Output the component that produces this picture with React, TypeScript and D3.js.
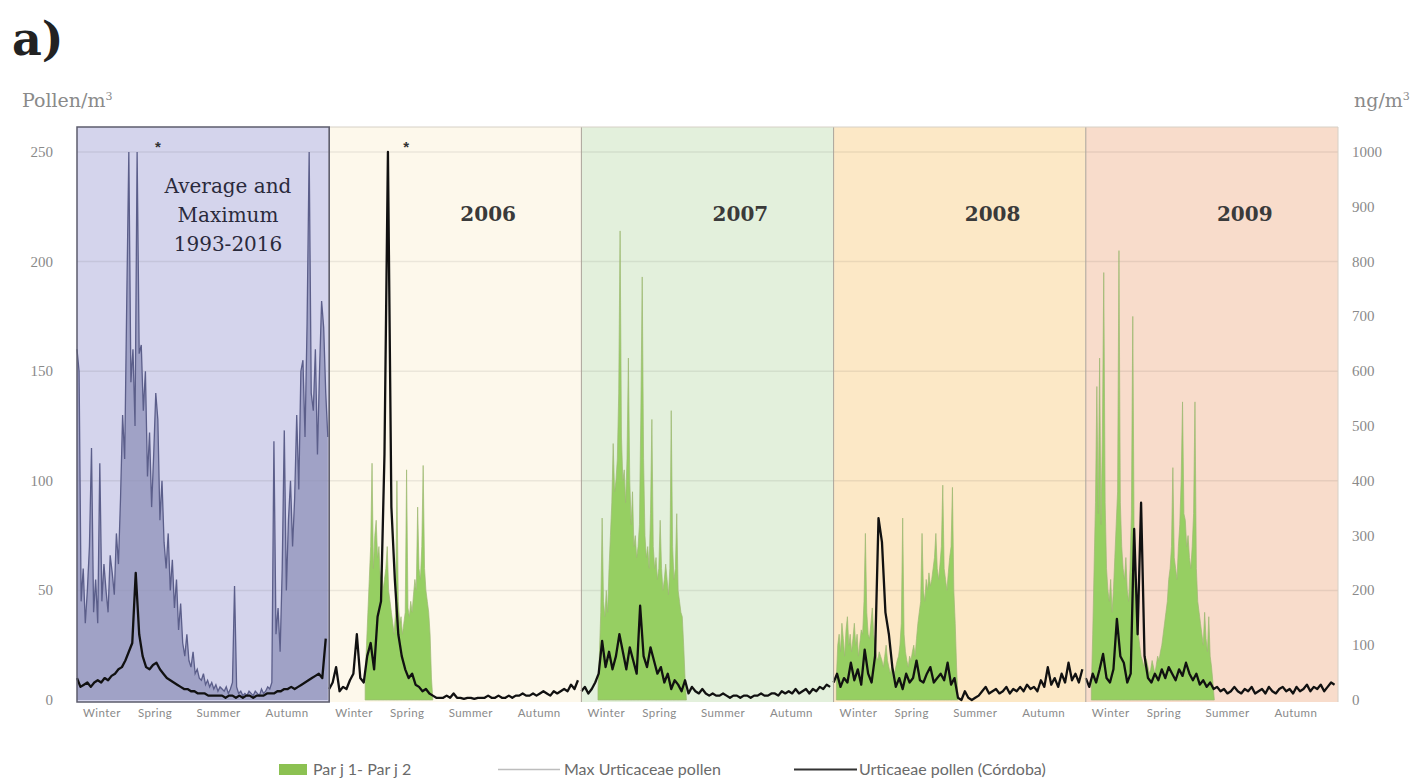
import React, { useEffect, useRef } from 'react';
import * as d3 from 'd3';

const W = 1416;
const H = 779;

// panels: 1993-2016 summary + one per year
const panelNames = ['avg', '2006', '2007', '2008', '2009'];
const panelTitles = [['Average and', 'Maximum', '1993-2016'], ['2006'], ['2007'], ['2008'], ['2009']];
const panelColors = ['#d4d4ec', '#fdf8eb', '#e3f0dc', '#fce8c6', '#f8dccb'];
const seasons = ['Winter', 'Spring', 'Summer', 'Autumn'];
const seasonDays = [36, 113, 205, 304];
const leftTicks = [0, 50, 100, 150, 200, 250];
const rightTicks = [0, 100, 200, 300, 400, 500, 600, 700, 800, 900, 1000];
const legendItems = ['Par j 1- Par j 2', 'Max Urticaceae pollen', 'Urticaeae pollen (Córdoba)'];

// Urticaceae pollen (pollen/m3), one value every 5 days
const pollenAvg = [
  10, 6, 7, 8, 6, 8, 9, 8, 10, 9,
  11, 12, 14, 15, 18, 22, 26, 58, 30, 20,
  15, 14, 16, 17, 14, 12, 10, 9, 8, 7,
  6, 5, 5, 4, 4, 3, 3, 3, 2, 2,
  2, 2, 2, 1, 2, 2, 1, 2, 1, 2,
  2, 1, 2, 2, 2, 3, 3, 3, 4, 4,
  5, 5, 6, 5, 6, 7, 8, 9, 10, 11,
  12, 10, 28,
];
const pollen2006 = [
  5, 8, 15, 4, 6, 5, 9, 12, 30, 10,
  8, 20, 26, 14, 38, 45, 112, 250, 88, 55,
  30, 20, 14, 10, 12, 7, 6, 4, 5, 3,
  2, 1, 1, 1, 2, 1, 3, 1, 1, 0.5,
  1, 1, 0.5, 1, 1, 1, 2, 1, 1, 2,
  1, 1, 2, 1, 2, 2, 3, 2, 2, 3,
  2, 3, 4, 3, 2, 4, 3, 4, 5, 4,
  7, 5, 9,
];
const pollen2007 = [
  4, 6, 3, 5, 8, 12, 27, 15, 22, 14,
  20, 30, 22, 14, 24, 18, 12, 43, 20, 15,
  24, 18, 12, 15, 8, 12, 5, 9, 7, 4,
  9, 3, 6, 4, 3, 5, 3, 2, 3, 2,
  2, 3, 2, 1, 2, 2, 1, 2, 2, 1,
  2, 2, 3, 2, 2, 3, 3, 2, 4, 3,
  4, 3, 5, 3, 4, 5, 3, 5, 4, 6,
  5, 7, 6,
];
const pollen2008 = [
  8, 12, 6, 10, 8, 17, 9, 14, 7, 23,
  12, 8, 20, 83, 72, 40, 30, 15, 6, 10,
  5, 12, 8, 10, 18, 9, 8, 12, 15, 8,
  10, 12, 9, 17, 7, 10, 1, 0, 4, 1,
  0, 1, 2, 4, 6, 3, 4, 5, 3, 4,
  6, 3, 5, 4, 6, 4, 7, 5, 6, 4,
  9, 6, 15, 7, 10, 6, 12, 8, 17, 9,
  12, 8, 14,
];
const pollen2009 = [
  10, 6, 12, 8, 14, 21, 10, 8, 14, 37,
  20, 17, 8, 12, 78, 30, 90, 20, 10, 8,
  12, 9, 14, 10, 15, 12, 9, 14, 11, 17,
  12, 9, 12, 7, 9, 6, 8, 5, 6, 4,
  5, 3, 4, 6, 4, 3, 5, 4, 6, 3,
  4, 5, 3, 6, 4, 3, 5, 6, 4, 5,
  3, 6, 4, 5, 7, 4, 6, 5, 7, 4,
  6, 8, 7,
];
const pollenSeries = [pollenAvg, pollen2006, pollen2007, pollen2008, pollen2009];

// Max Urticaceae pollen 1993-2016 (pollen/m3), one value every 3 days, clipped at 250
const pollenMax = [
  160, 150, 45, 60, 35, 50, 70, 115, 40, 55,
  35, 108, 45, 62, 50, 40, 66, 58, 48, 76,
  62, 92, 130, 110, 182, 250, 145, 160, 125, 250,
  158, 162, 132, 150, 102, 122, 88, 112, 140, 128,
  82, 100, 72, 60, 76, 50, 64, 42, 55, 32,
  44, 26, 20, 30, 18, 15, 22, 12, 14, 10,
  9, 12, 7, 9, 6, 8, 5, 7, 4, 6,
  5, 4, 6, 3, 5, 8, 52, 6, 3, 4,
  2, 3, 2, 4, 3, 2, 4, 3, 2, 5,
  3, 4, 6, 5, 8, 118, 30, 42, 22, 60,
  123, 50, 82, 100, 70, 92, 130, 96, 150, 155,
  120, 172, 250, 140, 132, 160, 112, 150, 182, 170,
  140, 120,
];

// Par j 1 - Par j 2 (ng/m3), one value every 2 days from the start day
const parjYears = ['2006', '2007', '2008', '2009'];
const parjStart = [52, 24, 4, 8];
const parj2006 = [
  40, 100, 160, 220, 280, 432, 240, 300, 328, 260,
  280, 220, 240, 200, 220, 240, 280, 200, 180, 160,
  140, 120, 160, 400, 180, 140, 152, 120, 140, 160,
  420, 168, 152, 180, 160, 192, 220, 200, 352, 240,
  220, 280, 428, 240, 200, 180, 160, 120, 40, 0,
];
const parj2007 = [
  20, 80, 160, 332, 180, 152, 200, 160, 240, 300,
  360, 468, 380, 400, 440, 560, 856, 480, 400, 420,
  360, 440, 624, 400, 320, 380, 280, 300, 260, 280,
  320, 520, 772, 440, 300, 260, 280, 240, 340, 512,
  280, 240, 260, 220, 240, 328, 240, 200, 220, 248,
  220, 192, 240, 528, 280, 220, 240, 340, 200, 180,
  160, 152, 100, 40, 0,
];
const parj2008 = [
  40, 100, 120, 88, 140, 112, 80, 128, 152, 100,
  120, 88, 112, 140, 100, 120, 80, 104, 128, 120,
  180, 304, 160, 120, 112, 140, 168, 120, 100, 80,
  72, 88, 80, 72, 60, 80, 100, 72, 60, 48,
  60, 40, 48, 60, 72, 80, 100, 140, 332, 120,
  88, 72, 60, 80, 72, 88, 100, 80, 112, 140,
  160, 180, 304, 200, 180, 220, 200, 232, 208, 220,
  240, 260, 304, 240, 220, 248, 280, 392, 240, 220,
  200, 232, 260, 280, 388, 200, 140, 60, 0,
];
const parj2009 = [
  20, 120, 240, 360, 572, 340, 624, 320, 480, 780,
  360, 240, 200, 180, 220, 160, 200, 260, 320, 380,
  820, 360, 280, 240, 220, 260, 200, 180, 240, 340,
  700, 280, 180, 140, 120, 100, 80, 72, 60, 80,
  72, 60, 48, 56, 72, 60, 48, 64, 80, 72,
  88, 100, 120, 140, 160, 180, 220, 240, 280, 424,
  260, 240, 220, 280, 320, 400, 544, 340, 328, 280,
  300, 260, 240, 280, 340, 544, 240, 180, 160, 140,
  120, 100, 160, 112, 88, 152, 80, 60, 32, 0,
];
const parjSeries = [parj2006, parj2007, parj2008, parj2009];

const App = () => {
  const svgRef = useRef<SVGSVGElement>(null);

  useEffect(() => {
    if (!svgRef.current) return;
    const svg = d3.select(svgRef.current);
    svg.selectAll('*').remove();

    const left = 77;
    const right = 1338;
    const top = 127;
    const bottom = 700;

    const x = d3.scaleBand<string>().domain(panelNames).range([left, right]);
    const day = d3.scaleLinear().domain([0, 365]).range([0, x.bandwidth()]);
    const yL = d3.scaleLinear().domain([0, 250]).range([bottom, 152]);
    const yR = d3.scaleLinear().domain([0, 1000]).range([bottom, 152]);

    const serif = 'DejaVu Serif, serif';
    const sans = 'Lato, Noto Sans, sans-serif';

    // panel backgrounds
    svg.append('g')
      .selectAll('rect')
      .data(panelNames)
      .join('rect')
      .attr('x', d => x(d)!)
      .attr('y', top)
      .attr('width', x.bandwidth())
      .attr('height', bottom + 2 - top)
      .attr('fill', (d, i) => panelColors[i]);

    // horizontal grid
    svg.append('g')
      .selectAll('line')
      .data(leftTicks.slice(1))
      .join('line')
      .attr('x1', left).attr('x2', right)
      .attr('y1', d => yL(d)).attr('y2', d => yL(d))
      .attr('stroke', '#000')
      .attr('stroke-opacity', 0.07)
      .attr('stroke-width', 1.5);

    // Par j 1 - Par j 2 areas
    parjSeries.forEach((values, k) => {
      const x0 = x(parjYears[k])!;
      const start = parjStart[k];
      const area = d3.area<number>()
        .x((d, i) => x0 + day(start + i * 2))
        .y0(yR(0))
        .y1(d => yR(d));
      svg.append('path')
        .datum(values)
        .attr('d', area)
        .attr('fill', '#96cf62')
        .attr('stroke', '#9db873')
        .attr('stroke-width', 0.7);
    });

    // Max pollen 1993-2016: dense daily maxima read as a shaded band
    const x1 = x('avg')!;
    const maxArea = d3.area<number>()
      .x((d, i) => x1 + day(i * 3))
      .y0(yL(0))
      .y1(d => yL(d));
    svg.append('path')
      .datum(pollenMax)
      .attr('d', maxArea)
      .attr('fill', '#8a8db7')
      .attr('fill-opacity', 0.7);
    svg.append('path')
      .datum(pollenMax)
      .attr('d', maxArea.lineY1())
      .attr('fill', 'none')
      .attr('stroke', '#5b5e8a')
      .attr('stroke-width', 1.3);

    // Urticaceae pollen (black)
    pollenSeries.forEach((values, k) => {
      const x0 = x(panelNames[k])!;
      const line = d3.line<number>()
        .x((d, i) => x0 + day(i * 5))
        .y(d => yL(d));
      svg.append('path')
        .datum(values)
        .attr('d', line)
        .attr('fill', 'none')
        .attr('stroke', '#111')
        .attr('stroke-width', 2.3)
        .attr('stroke-linejoin', 'round');
    });

    // panel separators and borders
    svg.append('g')
      .selectAll('line')
      .data(panelNames.slice(1))
      .join('line')
      .attr('x1', d => x(d)!).attr('x2', d => x(d)!)
      .attr('y1', top).attr('y2', bottom + 2)
      .attr('stroke', '#aaa49a')
      .attr('stroke-width', 1);
    svg.append('line')
      .attr('x1', right).attr('x2', right)
      .attr('y1', top).attr('y2', bottom + 2)
      .attr('stroke', '#d6d0c6');
    svg.append('line')
      .attr('x1', x('2006')!).attr('x2', right)
      .attr('y1', top).attr('y2', top)
      .attr('stroke', '#d6d0c6');
    svg.append('rect')
      .attr('x', left).attr('y', top)
      .attr('width', x.bandwidth())
      .attr('height', bottom + 2 - top)
      .attr('fill', 'none')
      .attr('stroke', '#5c5c6c')
      .attr('stroke-width', 1.5);

    // panel titles
    panelTitles.forEach((lines, k) => {
      const cx = x(panelNames[k])! + (k === 0 ? 151 : 159);
      lines.forEach((t, j) => {
        svg.append('text')
          .attr('x', cx)
          .attr('y', k === 0 ? 193 + j * 29 : 221)
          .attr('text-anchor', 'middle')
          .attr('font-family', serif)
          .attr('font-size', 20)
          .attr('font-weight', k === 0 ? 'normal' : 'bold')
          .attr('fill', k === 0 ? '#2a2a3c' : '#3a3a3a')
          .text(t);
      });
    });

    // asterisks on clipped peaks
    [['avg', 81], ['2006', 77]].forEach(([p, dx]) => {
      svg.append('text')
        .attr('x', x(p as string)! + (dx as number))
        .attr('y', 152)
        .attr('text-anchor', 'middle')
        .attr('font-family', 'Liberation Sans, sans-serif')
        .attr('font-weight', 'bold')
        .attr('font-size', 15)
        .attr('fill', '#333')
        .text('*');
    });

    // season labels
    panelNames.forEach(p => {
      seasons.forEach((s, j) => {
        svg.append('text')
          .attr('x', x(p)! + day(seasonDays[j]))
          .attr('y', 717)
          .attr('text-anchor', 'middle')
          .attr('font-family', sans)
          .attr('font-size', 11.5)
          .attr('letter-spacing', 0.4)
          .attr('fill', '#8a8a8a')
          .text(s);
      });
    });

    // axes
    svg.append('g')
      .selectAll('text')
      .data(leftTicks)
      .join('text')
      .attr('x', 53)
      .attr('y', d => yL(d) + 5)
      .attr('text-anchor', 'end')
      .attr('font-family', 'Liberation Serif, serif')
      .attr('font-size', 15)
      .attr('fill', '#8a8a8a')
      .text(d => d);
    svg.append('g')
      .selectAll('text')
      .data(rightTicks)
      .join('text')
      .attr('x', 1352)
      .attr('y', d => yR(d) + 5)
      .attr('font-family', 'Liberation Serif, serif')
      .attr('font-size', 15)
      .attr('fill', '#8a8a8a')
      .text(d => d);

    const unitL = svg.append('text')
      .attr('x', 22).attr('y', 107)
      .attr('font-family', serif)
      .attr('font-size', 19)
      .attr('fill', '#8a8a8a')
      .text('Pollen/m');
    unitL.append('tspan').attr('dy', -7).attr('font-size', 11).text('3');
    const unitR = svg.append('text')
      .attr('x', 1354).attr('y', 107)
      .attr('font-family', serif)
      .attr('font-size', 19)
      .attr('fill', '#8a8a8a')
      .text('ng/m');
    unitR.append('tspan').attr('dy', -7).attr('font-size', 11).text('3');

    svg.append('text')
      .attr('x', 12).attr('y', 55)
      .attr('font-family', serif)
      .attr('font-weight', 'bold')
      .attr('font-size', 46)
      .attr('fill', '#222')
      .text('a)');

    // legend
    const lg = svg.append('g').attr('font-family', sans).attr('font-size', 16).attr('fill', '#6a6a6a');
    lg.append('rect').attr('x', 279).attr('y', 764).attr('width', 28).attr('height', 11).attr('fill', '#8cc152');
    lg.append('text').attr('x', 313).attr('y', 775).text(legendItems[0]);
    lg.append('line').attr('x1', 498).attr('x2', 560).attr('y1', 769.5).attr('y2', 769.5)
      .attr('stroke', '#bdbdbd').attr('stroke-width', 1.5);
    lg.append('text').attr('x', 564).attr('y', 775).text(legendItems[1]);
    lg.append('line').attr('x1', 794).attr('x2', 857).attr('y1', 769.5).attr('y2', 769.5)
      .attr('stroke', '#333').attr('stroke-width', 2.2);
    lg.append('text').attr('x', 859).attr('y', 775).text(legendItems[2]);
  }, []);

  return (
    <svg
      ref={svgRef}
      width={W}
      height={H}
      style={{ position: 'absolute', left: 0, top: 0, background: '#fff' }}
    />
  );
};

export default App;
